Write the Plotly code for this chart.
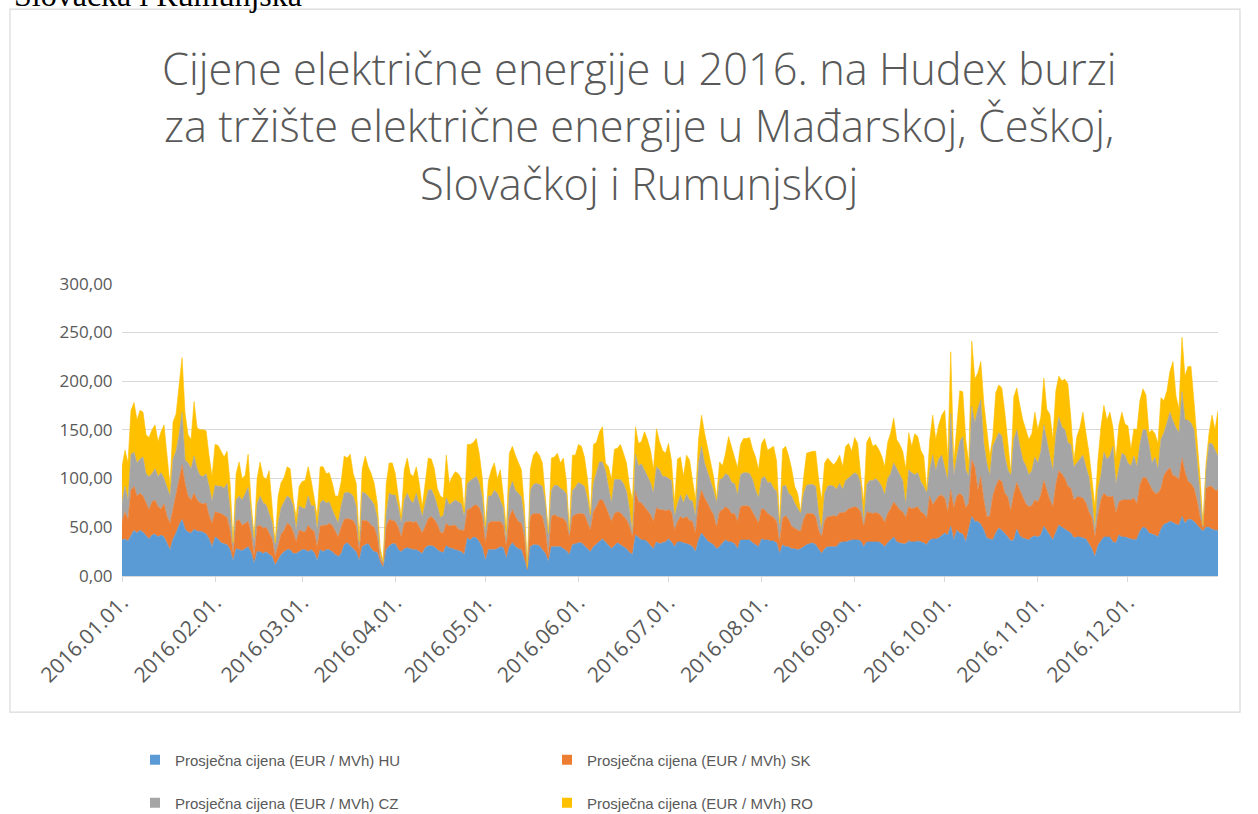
import plotly.graph_objects as go
import pandas as pd

# ---------------- data (daily, 2016) ----------------
dates = pd.date_range("2016-01-01", "2016-12-31", freq="D")

hu = [
    37, 38, 36, 42, 47, 44, 47, 45, 42, 38,
    42, 43, 40, 42, 40, 33, 27, 38, 44, 52,
    58, 48, 45, 44, 48, 46, 46, 45, 43, 38,
    30, 40, 38, 34, 33, 32, 27, 16, 28, 27,
    26, 28, 30, 24, 13, 25, 25, 23, 25, 22,
    20, 11, 17, 22, 25, 27, 27, 23, 23, 25,
    27, 27, 25, 27, 24, 16, 27, 25, 27, 27,
    25, 22, 20, 23, 32, 34, 31, 28, 25, 16,
    30, 32, 33, 28, 25, 24, 14, 9, 27, 31,
    33, 33, 27, 25, 28, 29, 28, 27, 27, 25,
    23, 29, 31, 31, 30, 27, 25, 24, 31, 29,
    28, 27, 26, 25, 22, 39, 37, 40, 39, 35,
    29, 16, 27, 27, 27, 28, 30, 29, 18, 30,
    34, 30, 28, 27, 17, 6, 30, 32, 32, 31,
    27, 23, 15, 30, 30, 30, 30, 28, 26, 22,
    32, 33, 34, 34, 31, 29, 25, 30, 33, 36,
    38, 35, 32, 28, 31, 34, 32, 30, 28, 24,
    22, 42, 39, 37, 37, 35, 31, 28, 35, 33,
    34, 35, 38, 35, 30, 35, 35, 34, 33, 32,
    30, 25, 37, 44, 40, 36, 34, 32, 28, 30,
    34, 37, 35, 35, 33, 28, 37, 37, 37, 37,
    34, 32, 30, 38, 37, 37, 36, 36, 34, 23,
    32, 30, 30, 28, 28, 27, 28, 30, 32, 33,
    34, 32, 28, 23, 28, 30, 30, 30, 30, 34,
    35, 35, 36, 37, 37, 37, 36, 30, 35, 35,
    35, 35, 35, 33, 30, 34, 37, 40, 35, 34,
    33, 33, 36, 35, 35, 36, 35, 34, 32, 37,
    38, 38, 39, 42, 44, 42, 51, 37, 47, 44,
    43, 35, 47, 61, 56, 56, 53, 47, 39, 38,
    37, 44, 49, 47, 44, 40, 36, 37, 48, 41,
    39, 38, 37, 40, 41, 40, 42, 51, 46, 42,
    37, 45, 52, 50, 48, 46, 44, 39, 40, 40,
    39, 38, 33, 28, 20, 31, 36, 40, 40, 40,
    35, 34, 42, 40, 40, 39, 38, 37, 38, 46,
    50, 49, 44, 43, 42, 40, 48, 53, 54, 56,
    55, 53, 52, 61, 54, 58, 58, 56, 52, 49,
    46, 50, 50, 48, 47, 47,
]

sk = [
    19, 28, 22, 46, 45, 38, 38, 37, 33, 30,
    34, 35, 31, 27, 34, 28, 27, 32, 41, 48,
    56, 47, 37, 34, 37, 32, 29, 29, 32, 24,
    24, 26, 27, 30, 29, 28, 20, 7, 28, 31,
    26, 26, 26, 20, 7, 26, 27, 26, 25, 22,
    18, 9, 16, 21, 22, 27, 25, 23, 12, 22,
    19, 18, 27, 21, 22, 14, 24, 27, 25, 27,
    27, 24, 20, 27, 26, 25, 27, 29, 26, 10,
    27, 25, 23, 24, 25, 16, 4, 3, 24, 27,
    24, 23, 23, 15, 26, 27, 28, 28, 29, 25,
    21, 22, 28, 30, 28, 26, 20, 20, 23, 22,
    24, 25, 22, 22, 25, 29, 32, 32, 34, 35,
    32, 18, 27, 29, 29, 28, 26, 23, 12, 31,
    34, 31, 28, 27, 23, 1, 31, 32, 32, 33,
    34, 24, 5, 31, 33, 31, 30, 31, 29, 18,
    29, 30, 30, 30, 32, 25, 22, 36, 38, 42,
    40, 37, 32, 28, 33, 32, 33, 32, 30, 27,
    18, 45, 37, 38, 34, 33, 32, 28, 35, 35,
    34, 32, 30, 31, 17, 21, 26, 25, 28, 25,
    26, 19, 38, 44, 40, 39, 34, 31, 22, 36,
    34, 34, 34, 29, 31, 28, 34, 35, 35, 34,
    32, 28, 24, 31, 31, 27, 26, 24, 22, 11,
    27, 32, 28, 23, 21, 20, 18, 28, 32, 31,
    30, 29, 19, 17, 29, 31, 31, 32, 31, 31,
    30, 31, 33, 33, 34, 33, 30, 21, 31, 30,
    29, 30, 29, 28, 25, 30, 32, 36, 37, 34,
    33, 27, 35, 34, 35, 35, 31, 30, 27, 45,
    35, 40, 43, 41, 36, 24, 37, 33, 35, 41,
    39, 35, 28, 58, 56, 32, 49, 31, 22, 23,
    45, 48, 50, 50, 41, 41, 31, 47, 48, 47,
    41, 36, 34, 32, 37, 36, 41, 47, 42, 36,
    34, 49, 56, 55, 52, 46, 46, 39, 41, 41,
    41, 37, 33, 32, 20, 31, 42, 45, 42, 41,
    47, 31, 34, 38, 38, 39, 40, 43, 36, 48,
    51, 52, 51, 46, 43, 45, 42, 50, 54, 55,
    48, 49, 47, 60, 53, 39, 37, 34, 26, 12,
    3, 40, 42, 44, 41, 41,
]

cz = [
    19, 26, 20, 37, 35, 34, 35, 40, 30, 34,
    29, 32, 31, 37, 26, 29, 28, 50, 43, 45,
    54, 24, 34, 32, 38, 32, 28, 28, 30, 30,
    23, 27, 27, 28, 28, 35, 21, 9, 22, 24,
    26, 30, 35, 21, 16, 23, 30, 26, 23, 20,
    17, 12, 22, 27, 29, 28, 28, 26, 12, 25,
    24, 24, 30, 24, 26, 17, 24, 26, 23, 22,
    16, 14, 14, 22, 27, 27, 27, 25, 20, 6,
    29, 28, 26, 26, 23, 20, 3, 1, 13, 27,
    26, 27, 21, 14, 24, 29, 22, 20, 29, 22,
    17, 24, 29, 28, 24, 19, 15, 18, 26, 22,
    24, 26, 28, 27, 14, 27, 29, 28, 29, 25,
    19, 10, 28, 26, 32, 29, 22, 18, 6, 27,
    29, 27, 29, 27, 17, 1, 27, 30, 31, 30,
    31, 28, 22, 27, 30, 32, 30, 29, 29, 4,
    27, 28, 32, 30, 29, 25, 13, 29, 34, 39,
    39, 36, 27, 19, 35, 33, 34, 33, 29, 17,
    4, 38, 37, 40, 37, 34, 33, 29, 42, 41,
    34, 35, 32, 32, 14, 18, 22, 16, 23, 21,
    21, 17, 41, 45, 36, 31, 28, 25, 25, 33,
    32, 34, 34, 32, 31, 27, 33, 34, 34, 34,
    33, 28, 26, 31, 34, 32, 34, 30, 31, 17,
    33, 31, 27, 31, 26, 23, 18, 27, 29, 30,
    30, 31, 17, 7, 28, 31, 32, 30, 28, 30,
    24, 32, 32, 33, 35, 34, 29, 3, 28, 33,
    34, 35, 33, 31, 28, 36, 36, 40, 38, 35,
    32, 13, 38, 37, 34, 35, 31, 28, 26, 27,
    51, 30, 38, 41, 30, 32, 79, 33, 40, 53,
    61, 39, 27, 55, 45, 83, 79, 58, 55, 42,
    51, 49, 48, 47, 38, 28, 36, 56, 54, 45,
    39, 39, 33, 36, 44, 40, 45, 57, 49, 45,
    37, 51, 55, 48, 50, 45, 45, 34, 35, 39,
    44, 37, 36, 19, 7, 27, 25, 42, 38, 42,
    51, 30, 34, 48, 46, 38, 35, 43, 38, 41,
    49, 49, 40, 27, 37, 25, 50, 44, 49, 57,
    56, 50, 48, 68, 53, 63, 62, 60, 41, 21,
    1, 18, 44, 44, 42, 35,
]

ro = [
    37, 37, 38, 45, 51, 44, 50, 46, 40, 40,
    45, 45, 36, 42, 55, 35, 10, 38, 38, 50,
    56, 48, 29, 30, 56, 42, 47, 48, 44, 31,
    25, 42, 42, 36, 32, 33, 27, 2, 27, 35,
    22, 19, 34, 10, 4, 26, 35, 27, 26, 44,
    15, 2, 27, 26, 25, 30, 30, 7, 13, 20,
    27, 29, 30, 26, 8, 14, 37, 34, 30, 30,
    28, 22, 28, 25, 38, 35, 40, 23, 24, 4,
    24, 38, 30, 27, 22, 15, 7, 2, 31, 31,
    33, 22, 11, 7, 31, 36, 27, 27, 27, 23,
    10, 20, 33, 31, 28, 18, 22, 18, 44, 22,
    26, 29, 29, 26, 5, 40, 37, 37, 39, 30,
    20, 7, 15, 27, 28, 15, 31, 12, 11, 38,
    36, 36, 31, 28, 14, 1, 22, 30, 33, 30,
    24, 3, 2, 33, 29, 33, 26, 33, 13, 3,
    36, 33, 39, 39, 30, 21, 3, 40, 32, 31,
    36, 8, 21, 24, 31, 32, 36, 31, 29, 24,
    34, 28, 23, 23, 40, 38, 33, 24, 39, 29,
    27, 24, 36, 20, 14, 46, 39, 27, 40, 41,
    23, 17, 24, 32, 31, 27, 20, 14, 5, 18,
    13, 21, 40, 37, 28, 28, 31, 35, 35, 37,
    31, 34, 29, 36, 39, 33, 35, 43, 31, 3,
    38, 40, 38, 28, 17, 15, 2, 16, 33, 33,
    34, 36, 35, 31, 31, 29, 24, 22, 29, 29,
    23, 35, 35, 25, 36, 32, 9, 21, 43, 45,
    35, 35, 33, 31, 29, 37, 42, 46, 30, 32,
    30, 37, 38, 27, 42, 37, 32, 31, 3, 31,
    41, 32, 35, 41, 60, 22, 63, 13, 31, 52,
    46, 31, 14, 67, 45, 37, 39, 42, 34, 20,
    10, 47, 49, 49, 45, 28, 3, 44, 43, 42,
    41, 37, 36, 38, 46, 34, 35, 48, 34, 43,
    32, 45, 42, 47, 52, 60, 27, 6, 27, 32,
    44, 35, 25, 21, 24, 29, 49, 48, 40, 45,
    20, 25, 45, 42, 32, 38, 17, 28, 38, 45,
    42, 36, 12, 34, 24, 26, 43, 33, 33, 42,
    61, 33, 24, 56, 45, 55, 58, 29, 24, 20,
    2, 7, 10, 29, 20, 47,
]

series_names = [
    "Prosječna cijena (EUR / MVh) HU",
    "Prosječna cijena (EUR / MVh) SK",
    "Prosječna cijena (EUR / MVh) CZ",
    "Prosječna cijena (EUR / MVh) RO",
]
series_values = [hu, sk, cz, ro]
series_colors = ["#5B9BD5", "#ED7D31", "#A5A5A5", "#FFC000"]

tick_vals = ["2016-01-01", "2016-02-01", "2016-03-01", "2016-04-01",
             "2016-05-01", "2016-06-01", "2016-07-01", "2016-08-01",
             "2016-09-01", "2016-10-01", "2016-11-01", "2016-12-01"]
tick_text = ["2016.01.01.", "2016.02.01.", "2016.03.01.", "2016.04.01.",
             "2016.05.01.", "2016.06.01.", "2016.07.01.", "2016.08.01.",
             "2016.09.01.", "2016.10.01.", "2016.11.01.", "2016.12.01."]
y_ticks = [0, 50, 100, 150, 200, 250, 300]

title_lines = ["Cijene električne energije u 2016. na Hudex burzi",
               "za tržište električne energije u Mađarskoj, Češkoj,",
               "Slovačkoj i Rumunjskoj"]

# ---------------- geometry ----------------
W, H = 1258, 814
L, R = 122, 1218          # plot area x pixels
T, B = 284, 576           # plot area y pixels (0 .. 300)
Y_MAX = 300.6
T_EFF = B - (B - T) * Y_MAX / 300.0


def px_x(x):
    return (x - L) / (R - L)


def px_y(y):
    return (B - y) / (B - T_EFF)


fig = go.Figure()

for name, vals, col in zip(series_names, series_values, series_colors):
    fig.add_trace(go.Scatter(
        x=dates, y=vals, name=name, stackgroup="one", mode="lines",
        line=dict(width=0.6, color=col), fillcolor=col,
        showlegend=False, hoverinfo="skip"))

# legend entries (square markers, two rows)
for i, (name, col) in enumerate(zip(series_names, series_colors)):
    fig.add_trace(go.Scatter(
        x=[None], y=[None], mode="markers", name=name,
        marker=dict(symbol="square", size=10, color=col),
        legend="legend" if i < 2 else "legend2"))

legend_common = dict(
    orientation="h", xref="container", yref="container",
    xanchor="left", yanchor="middle", traceorder="normal",
    font=dict(family="Liberation Sans, Arial, sans-serif", size=15, color="#595959"),
    entrywidth=367, entrywidthmode="pixels", itemwidth=30,
    bgcolor="rgba(0,0,0,0)", borderwidth=0,
)

annotations = []
for i, (line, yc) in enumerate(zip(title_lines, [69, 126, 184])):
    annotations.append(dict(
        text=line, x=px_x(639), y=px_y(yc), xref="paper", yref="paper",
        xanchor="center", yanchor="middle", showarrow=False,
        font=dict(family="Open Sans, sans-serif", size=43.4, color="#595959",
                  weight=300)))

# cut-off caption line from the surrounding document (partly above the page edge)
annotations.append(dict(
    text="Slovačka i Rumunjska", x=px_x(12), y=px_y(-4), xref="paper", yref="paper",
    xanchor="left", yanchor="middle", showarrow=False,
    font=dict(family="Liberation Serif, Times New Roman, serif", size=32, color="#000000")))

fig.update_layout(
    width=W, height=H,
    margin=dict(l=L, r=W - R, t=int(round(T_EFF)), b=H - B, pad=0),
    paper_bgcolor="white", plot_bgcolor="white",
    separators=", ",
    showlegend=True,
    legend=dict(x=135 / W, y=1 - 760 / H, **legend_common),
    legend2=dict(x=135 / W, y=1 - 803 / H, **legend_common),
    annotations=annotations,
    shapes=[dict(type="rect", xref="paper", yref="paper",
                 x0=px_x(10), x1=px_x(1240), y0=px_y(712), y1=px_y(10),
                 line=dict(color="#D9D9D9", width=1.2), fillcolor="rgba(0,0,0,0)",
                 layer="below")],
)

fig.update_xaxes(
    type="date", range=["2016-01-01", "2016-12-31"],
    tickvals=tick_vals, ticktext=tick_text, tickangle=-45,
    showgrid=False, zeroline=False,
    showline=True, linecolor="#D9D9D9", linewidth=1.2,
    ticks="outside", ticklen=5, tickcolor="#D9D9D9",
    tickfont=dict(family="Open Sans, sans-serif", size=21, color="#595959"),
)
fig.update_yaxes(
    range=[0, Y_MAX], tickvals=y_ticks, tickformat=".2f",
    showgrid=True, gridcolor="#D9D9D9", gridwidth=1.2,
    zeroline=False, showline=False,
    ticks="outside", ticklen=5, tickcolor="rgba(0,0,0,0)",
    tickfont=dict(family="Open Sans, sans-serif", size=17, color="#595959"),
)

fig.write_html(
    "out.html",
    config={"displayModeBar": False},
    post_script="document.body.style.margin='0';document.body.style.overflow='hidden';",
)
